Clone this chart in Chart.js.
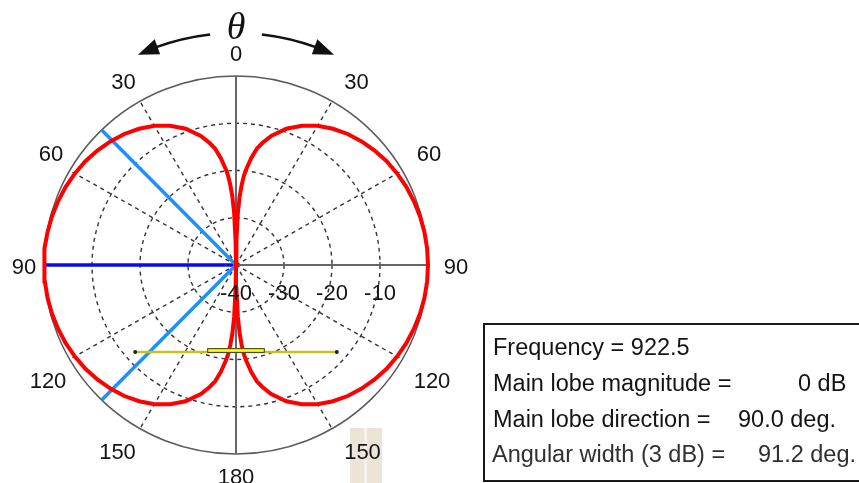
<!DOCTYPE html>
<html>
<head>
<meta charset="utf-8">
<script src="https://cdn.jsdelivr.net/npm/chart.js@4/dist/chart.umd.min.js"></script>
<style>
  html, body { margin: 0; padding: 0; background: #ffffff; }
  canvas { display: block; }
</style>
</head>
<body>
<canvas id="polar" width="859" height="483"></canvas>
<script>
// Radiation pattern cut: gain (dB) against polar angle theta, 0..180 deg.
const thetaDeg = [0, 1, 2, 3, 4, 5, 6, 8, 10, 12, 15, 20, 25, 30, 35, 40, 45, 50, 55, 60, 65, 70, 75, 80, 85, 90,
                  95, 100, 105, 110, 115, 120, 125, 130, 135, 140, 145, 150, 155, 160, 165, 168, 170, 172, 174, 175,
                  176, 177, 178, 179, 180];
const gainDb = [-40, -35, -29, -25.5, -23, -21, -19.6, -17.1, -15, -13.6, -11.7, -9.3, -7.5, -6.0, -4.8, -3.8, -3.0, -2.3, -1.7, -1.25, -0.85, -0.55, -0.3, -0.13, -0.03, 0,
                -0.03, -0.13, -0.3, -0.55, -0.85, -1.25, -1.7, -2.3, -3.0, -3.8, -4.8, -6.0, -7.5, -9.3, -11.7, -13.6, -15, -17.1, -19.6, -21,
                -23, -25.5, -29, -35, -40];

// Polar grid
const floorDb = -40;
const ringDb = [-30, -20, -10];
const ringTickDb = [-40, -30, -20, -10];
const ringTickLabels = ['-40', '-30', '-20', '-10'];
const spokeDeg = [30, 60, 120, 150];
const angleTickDeg = [0, 30, 60, 90, 120, 150, 180];
const angleTickLabels = ['0', '30', '60', '90', '120', '150', '180'];

// Summary values
const frequency = 922.5;
const mainLobeDb = 0;
const mainLobeDeg = 90.0;
const beamWidthDeg = 91.2;

// Antenna element sketch (in plot units)
const elementSpan = [-21, 21];
const elementLevel = -18.4;
const feedSpan = [-6, 6];
const feedHeight = [-17.6, -18.6];

// Where each angle label sits, in pixels from the plot centre (right-hand side)
const angleLabelOffset = {
  0: [0, -212], 30: [116.5, -184], 60: [189, -112], 90: [216, 1],
  120: [192, 115], 150: [122.5, 186], 180: [0, 211]
};

const toRad = d => d * Math.PI / 180;
const radius = db => Math.max(0, db - floorDb);
const polarPoint = (deg, db, side) => ({
  x: side * radius(db) * Math.sin(toRad(deg)),
  y: radius(db) * Math.cos(toRad(deg))
});

// Pattern drawn on both sides of the axis
const patternPoints = [];
thetaDeg.forEach((t, i) => patternPoints.push(polarPoint(t, gainDb[i], 1)));
for (let i = thetaDeg.length - 1; i >= 0; i--) patternPoints.push(polarPoint(thetaDeg[i], gainDb[i], -1));

const mainLobeLine = [{ x: 0, y: 0 }, polarPoint(mainLobeDeg, mainLobeDb, -1)];
const halfPowerLines = [
  polarPoint(mainLobeDeg - beamWidthDeg / 2, mainLobeDb, -1),
  { x: 0, y: 0 },
  polarPoint(mainLobeDeg + beamWidthDeg / 2, mainLobeDb, -1)
];
const elementLine = [{ x: elementSpan[0], y: elementLevel }, { x: elementSpan[1], y: elementLevel }];

const FONT = '"Liberation Sans", Arial, sans-serif';
const INK = '#141414';

const gridPlugin = {
  id: 'polarGrid',
  beforeDatasetsDraw(chart) {
    const { ctx, scales: { x, y } } = chart;
    const cx = x.getPixelForValue(0), cy = y.getPixelForValue(0);
    const rx = v => x.getPixelForValue(v) - cx;
    const ry = v => cy - y.getPixelForValue(v);
    const R = radius(0);
    ctx.save();
    // dashed level circles
    ctx.strokeStyle = '#333333';
    ctx.lineWidth = 1.4;
    ctx.setLineDash([4, 4]);
    ringDb.forEach(db => {
      ctx.beginPath();
      ctx.ellipse(cx, cy, rx(radius(db)), ry(radius(db)), 0, 0, Math.PI * 2);
      ctx.stroke();
    });
    // dashed spokes
    spokeDeg.forEach(d => {
      [-1, 1].forEach(s => {
        const p = polarPoint(d, 0, s);
        ctx.beginPath();
        ctx.moveTo(cx, cy);
        ctx.lineTo(x.getPixelForValue(p.x), y.getPixelForValue(p.y));
        ctx.stroke();
      });
    });
    ctx.setLineDash([]);
    // outer circle
    ctx.strokeStyle = '#5a5a5a';
    ctx.lineWidth = 1.5;
    ctx.beginPath();
    ctx.ellipse(cx, cy, rx(R), ry(R), 0, 0, Math.PI * 2);
    ctx.stroke();
    // solid axes
    ctx.strokeStyle = '#666666';
    ctx.lineWidth = 2;
    ctx.beginPath();
    ctx.moveTo(x.getPixelForValue(-R), cy);
    ctx.lineTo(x.getPixelForValue(R), cy);
    ctx.moveTo(cx, y.getPixelForValue(R));
    ctx.lineTo(cx, y.getPixelForValue(-R));
    ctx.stroke();
    // ticks on the level axis
    ctx.lineWidth = 1.5;
    ringDb.forEach(db => {
      const px = x.getPixelForValue(radius(db));
      ctx.beginPath();
      ctx.moveTo(px, cy - 3);
      ctx.lineTo(px, cy + 3);
      ctx.stroke();
    });
    ctx.restore();
  },
  afterDatasetsDraw(chart) {
    const { ctx, scales: { x, y } } = chart;
    ctx.save();
    // feed block on the element
    const x0 = x.getPixelForValue(feedSpan[0]), x1 = x.getPixelForValue(feedSpan[1]);
    const y0 = y.getPixelForValue(feedHeight[0]), y1 = y.getPixelForValue(feedHeight[1]);
    ctx.fillStyle = '#ffff00';
    ctx.strokeStyle = '#333333';
    ctx.lineWidth = 1;
    ctx.fillRect(x0, y0, x1 - x0, y1 - y0);
    ctx.strokeRect(x0 + 0.5, y0 + 0.5, x1 - x0 - 1, y1 - y0 - 1);
    ctx.restore();
  },
  afterDraw(chart) {
    const { ctx, scales: { x, y } } = chart;
    const cx = x.getPixelForValue(0), cy = y.getPixelForValue(0);
    ctx.save();

    // light panel behind the lower right tick
    ctx.fillStyle = '#ece5d7';
    ctx.fillRect(350, 428, 14, 55);
    ctx.fillRect(367, 428, 15, 55);
    ctx.fillStyle = '#f6f2ea';
    ctx.fillRect(364, 428, 3, 55);

    // angle tick labels
    ctx.fillStyle = INK;
    ctx.font = '22px ' + FONT;
    ctx.textAlign = 'center';
    ctx.textBaseline = 'alphabetic';
    const labelMid = cx + 4;
    angleTickDeg.forEach((d, i) => {
      const [dx, dy] = angleLabelOffset[d];
      const sides = dx === 0 ? [0] : [-1, 1];
      sides.forEach(s => {
        const lx = (dx === 0 ? cx : labelMid) + s * dx;
        ctx.fillText(angleTickLabels[i], lx, cy + dy + 8);
      });
    });

    // level tick labels
    ringTickDb.forEach((db, i) => {
      ctx.fillText(ringTickLabels[i], x.getPixelForValue(radius(db)), cy + 27 + 8);
    });

    // theta sweep arrows
    const Ra = 232;
    ctx.strokeStyle = '#111111';
    ctx.fillStyle = '#111111';
    ctx.lineWidth = 2.5;
    [-1, 1].forEach(s => {
      ctx.beginPath();
      const start = -90 + s * 6.4, end = -90 + s * 20.5;
      ctx.arc(cx, cy, Ra, toRad(start), toRad(end), s < 0);
      ctx.stroke();
      const tip = [cx + s * Ra * Math.sin(toRad(25)), cy - Ra * Math.cos(toRad(25))];
      const b1 = [cx + s * (Ra + 8) * Math.sin(toRad(19.8)), cy - (Ra + 8) * Math.cos(toRad(19.8))];
      const b2 = [cx + s * (Ra - 8) * Math.sin(toRad(19.8)), cy - (Ra - 8) * Math.cos(toRad(19.8))];
      ctx.beginPath();
      ctx.moveTo(tip[0], tip[1]);
      ctx.lineTo(b1[0], b1[1]);
      ctx.lineTo(b2[0], b2[1]);
      ctx.closePath();
      ctx.fill();
    });
    ctx.font = 'italic 38px "Liberation Serif", "DejaVu Serif", serif';
    ctx.textAlign = 'center';
    ctx.fillText('\u03B8', cx, 39);

    // summary box
    ctx.fillStyle = '#ffffff';
    ctx.fillRect(484, 324, 380, 160);
    ctx.strokeStyle = '#1a1a1a';
    ctx.lineWidth = 2;
    ctx.strokeRect(484, 324, 390, 157);
    ctx.font = '23.5px ' + FONT;
    ctx.textAlign = 'left';
    ctx.fillStyle = INK;
    ctx.fillText('Frequency = ' + frequency.toFixed(1), 493, 355);
    ctx.fillText('Main lobe magnitude =', 493, 391);
    ctx.fillText(mainLobeDb + ' dB', 798, 391);
    ctx.fillText('Main lobe direction =', 493, 427);
    ctx.fillText(mainLobeDeg.toFixed(1) + ' deg.', 738, 427);
    ctx.fillStyle = '#303030';
    ctx.fillText('Angular width (3 dB) =', 492, 462);
    ctx.fillText(beamWidthDeg.toFixed(1) + ' deg.', 758, 462);
    ctx.restore();
  }
};

const line = (data, color, width, extra) => Object.assign({
  data, showLine: true, borderColor: color, backgroundColor: color, borderWidth: width,
  pointRadius: 0, tension: 0, clip: false
}, extra || {});

new Chart(document.getElementById('polar'), {
  type: 'scatter',
  data: {
    datasets: [
      line(patternPoints, '#ff0000', 4),
      line(elementLine, '#c8c31c', 2.5, { pointRadius: [2, 2], pointBackgroundColor: '#222', pointBorderWidth: 0 }),
      line(halfPowerLines, '#1e8fff', 3.5),
      line(mainLobeLine, '#0a0aee', 3.5)
    ]
  },
  options: {
    responsive: false,
    animation: false,
    devicePixelRatio: 1,
    layout: { padding: { left: 44, right: 431, top: 76, bottom: 29 } },
    scales: {
      x: { type: 'linear', min: -40, max: 40, display: false },
      y: { type: 'linear', min: -40, max: 40, display: false }
    },
    plugins: { legend: { display: false }, tooltip: { enabled: false } },
    events: []
  },
  plugins: [gridPlugin]
});
</script>
</body>
</html>
